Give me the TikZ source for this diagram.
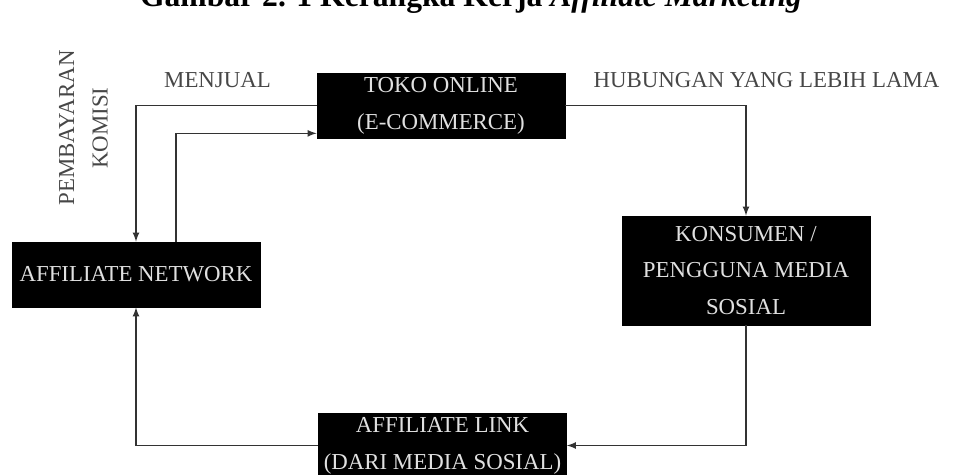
\documentclass[tikz,border=0pt]{standalone}
\usepackage{fontspec}
\setmainfont{Liberation Serif}

\begin{document}
\begin{tikzpicture}[
    kotak/.style={draw=black, fill=black, text=white!88!black, minimum width=4.96cm, minimum height=1.3cm, align=center, inner sep=2pt, font={\fontsize{13}{21}\selectfont}},
    ket/.style={text=black!72, align=center, font={\fontsize{13}{19}\selectfont}},
    panah/.style={->, >=latex, draw=black!80, line width=0.8pt}]
    \useasboundingbox (0,0) rectangle (19.22,-9.5);

    % judul (terpotong di atas)
    \node[anchor=base] (J) at (9.42,-0.13) {\fontsize{18}{20}\selectfont\bfseries Gambar 2. 1 Kerangka Kerja \textit{Affiliate Marketing}};

    \node[kotak] (T) at (8.82,-2.11) {TOKO ONLINE\\(E-COMMERCE)};
    \node[kotak] (N) at (2.72,-5.49) {AFFILIATE NETWORK};
    \node[kotak, minimum height=2.18cm] (K) at (14.92,-5.41) {KONSUMEN /\\PENGGUNA MEDIA\\SOSIAL};
    \node[kotak] (L) at (8.85,-8.91) {AFFILIATE LINK\\(DARI MEDIA SOSIAL)};

    \node[ket] (M) at (4.35,-1.6) {MENJUAL};
    \node[ket] (H) at (15.33,-1.6) {HUBUNGAN YANG LEBIH LAMA};
    \node[ket, rotate=90] (B) at (1.67,-2.56) {PEMBAYARAN\\KOMISI};

    \draw[panah] (T.west) -| (N.north);
    \draw[panah] ([xshift=0.8cm]N.north) |- ([yshift=0.1cm]T.south west);
    \draw[panah] (T.east) -| (K.north);
    \draw[panah] (K.south) |- (L.east);
    \draw[panah] (L.west) -| (N.south);
\end{tikzpicture}
\end{document}
